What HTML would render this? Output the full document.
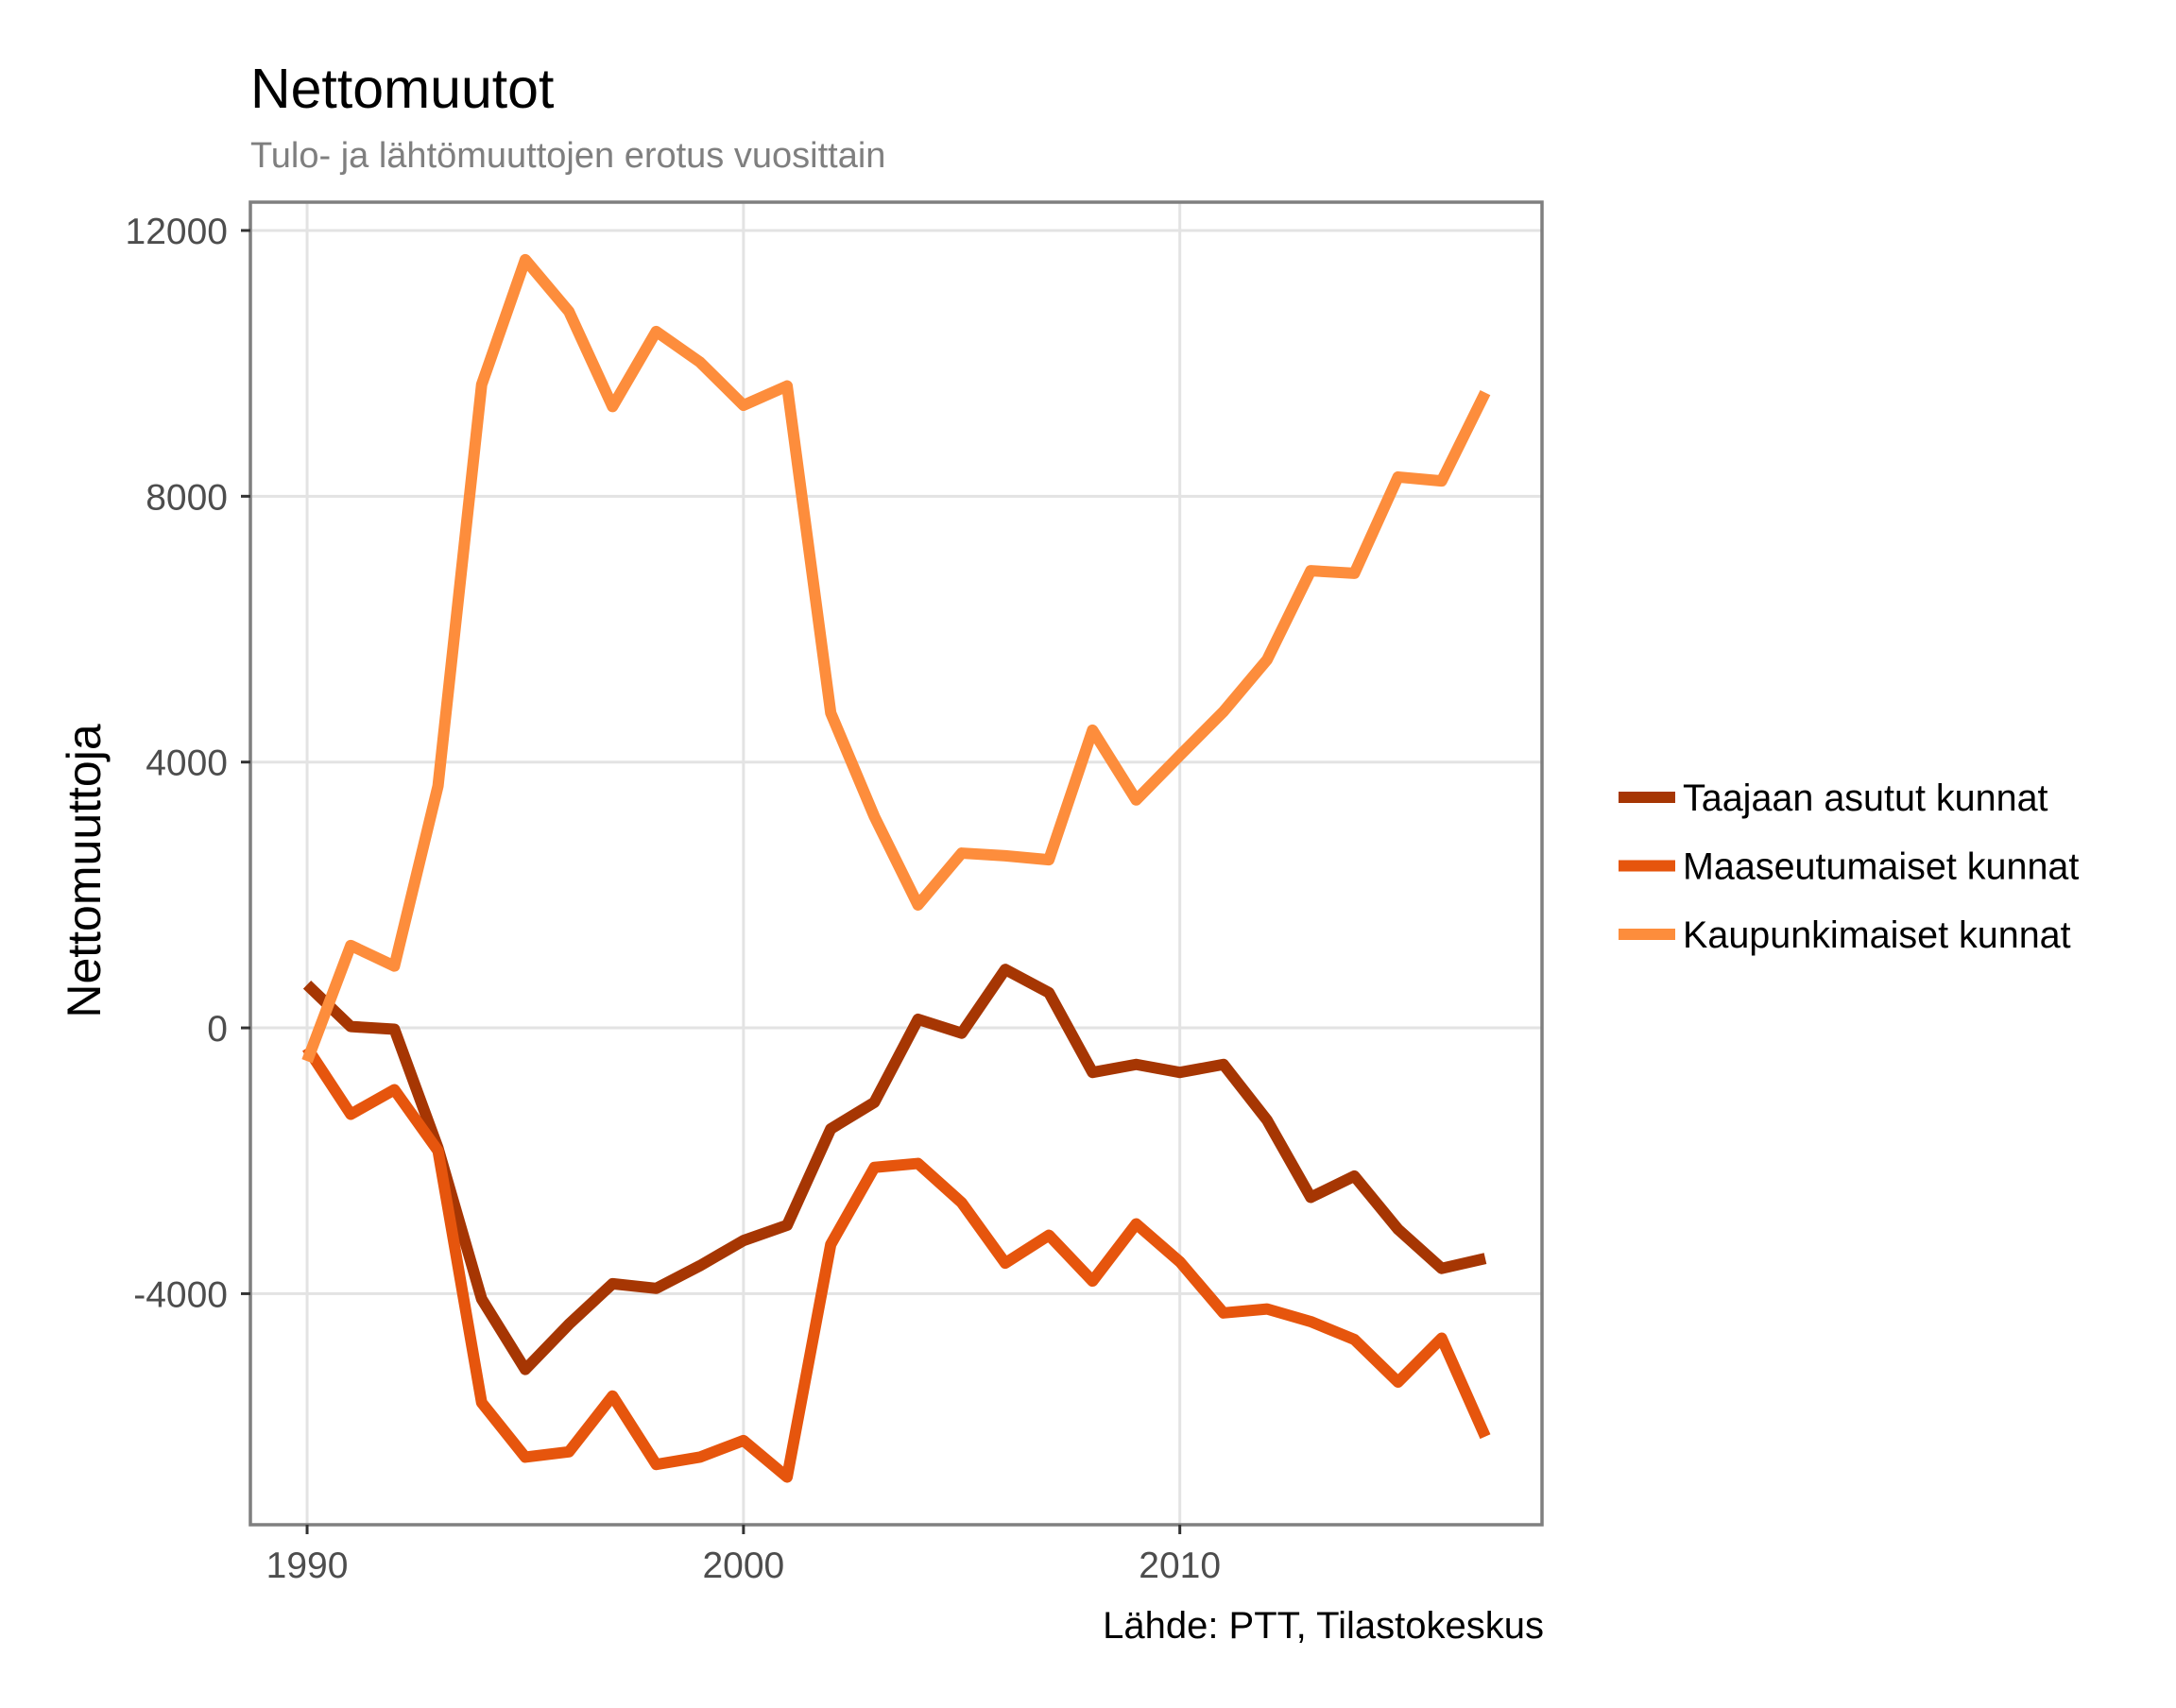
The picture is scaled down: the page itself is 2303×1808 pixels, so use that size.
<!DOCTYPE html>
<html><head><meta charset="utf-8"><style>
html,body{margin:0;padding:0;background:#fff;}
svg text{font-family:"Liberation Sans",Arial,sans-serif;}
</style></head><body>
<svg id="chart" width="2303" height="1803" xmlns="http://www.w3.org/2000/svg">
<text x="265" y="114" font-size="59" fill="#000">Nettomuutot</text>
<text x="265" y="177" font-size="38" fill="#7f7f7f">Tulo- ja lähtömuuttojen erotus vuosittain</text>
<g id="grid"></g>
<g id="series"></g>
<rect x="265" y="214" width="1367" height="1400" fill="none" stroke="#7f7f7f" stroke-width="3.5"/>
<g id="axes"></g>
<text transform="translate(106,922) rotate(-90)" text-anchor="middle" font-size="50" fill="#000">Nettomuuttoja</text>
<text x="1634" y="1734" text-anchor="end" font-size="40" fill="#000">Lähde: PTT, Tilastokeskus</text>
<g id="legend"></g>
</svg>
<script>
const years = [1990,1991,1992,1993,1994,1995,1996,1997,1998,1999,2000,2001,2002,2003,2004,2005,2006,2007,2008,2009,2010,2011,2012,2013,2014,2015,2016,2017];
const taajaan = [650,20,-20,-1810,-4080,-5140,-4460,-3850,-3920,-3580,-3200,-2970,-1520,-1120,130,-80,880,530,-670,-550,-670,-550,-1390,-2550,-2230,-3030,-3620,-3470];
const maaseutu = [-300,-1300,-930,-1850,-5640,-6460,-6380,-5540,-6570,-6460,-6210,-6760,-3260,-2100,-2040,-2630,-3540,-3120,-3810,-2950,-3520,-4290,-4230,-4420,-4690,-5330,-4670,-6150];
const kaupunki = [-500,1240,930,3640,9680,11560,10780,9350,10480,10020,9370,9660,4740,3180,1850,2630,2590,2530,4480,3430,4100,4760,5540,6880,6840,8290,8230,9560];
const seriesNames = ["Taajaan asutut kunnat","Maaseutumaiset kunnat","Kaupunkimaiset kunnat"];
const seriesColors = ["#A63603","#E6550D","#FD8D3C"];
const yTicks = [-4000,0,4000,8000,12000];
const xTicks = [1990,2000,2010];

const NS="http://www.w3.org/2000/svg";
const X0=265,X1=1632,Y0=1614,Y1=214;
const xMin=1988.7,xMax=2018.3,yMin=-7477,yMax=12426;
const xs=v=>X0+(v-xMin)/(xMax-xMin)*(X1-X0);
const ys=v=>Y0-(v-yMin)/(yMax-yMin)*(Y0-Y1);
function mk(tag,attrs,parent){const e=document.createElementNS(NS,tag);for(const k in attrs)e.setAttribute(k,attrs[k]);parent.appendChild(e);return e;}
const grid=document.getElementById('grid'),axes=document.getElementById('axes'),ser=document.getElementById('series'),leg=document.getElementById('legend');
for(const t of yTicks){
  const l=mk('line',{x1:X0,x2:X1,y1:ys(t),y2:ys(t),stroke:'#e3e3e3','stroke-width':3},grid);
  
  
  const tk=mk('line',{x1:X0-10,x2:X0,y1:ys(t),y2:ys(t),stroke:'#333','stroke-width':3},axes);
  
  
  const tx=mk('text',{x:X0-24,y:ys(t)+14,'text-anchor':'end','font-size':39,fill:'#4d4d4d'},axes);
  tx.textContent=t;
  
  
}
for(const t of xTicks){
  const l=mk('line',{x1:xs(t),x2:xs(t),y1:Y0,y2:Y1,stroke:'#e3e3e3','stroke-width':3},grid);
  
  
  const tk=mk('line',{x1:xs(t),x2:xs(t),y1:Y0,y2:Y0+10,stroke:'#333','stroke-width':3},axes);
  
  
  const tx=mk('text',{x:xs(t),y:Y0+56,'text-anchor':'middle','font-size':39,fill:'#4d4d4d'},axes);
  tx.textContent=t;
  
  
}
const data=[taajaan,maaseutu,kaupunki];
data.forEach((d,i)=>{
  const p=mk('polyline',{points:d.map((v,j)=>xs(years[j])+','+ys(v)).join(' '),fill:'none',stroke:seriesColors[i],'stroke-width':12,'stroke-linejoin':'round'},ser);
  
  
  const y=844+i*72.5;
  const k=mk('line',{x1:1713,x2:1773,y1:y,y2:y,stroke:seriesColors[i],'stroke-width':12},leg);
  
  
  const t=mk('text',{x:1781,y:y+14,'font-size':39.5,fill:'#000'},leg);
  t.textContent=seriesNames[i];
  
  
});
</script>
</body></html>
